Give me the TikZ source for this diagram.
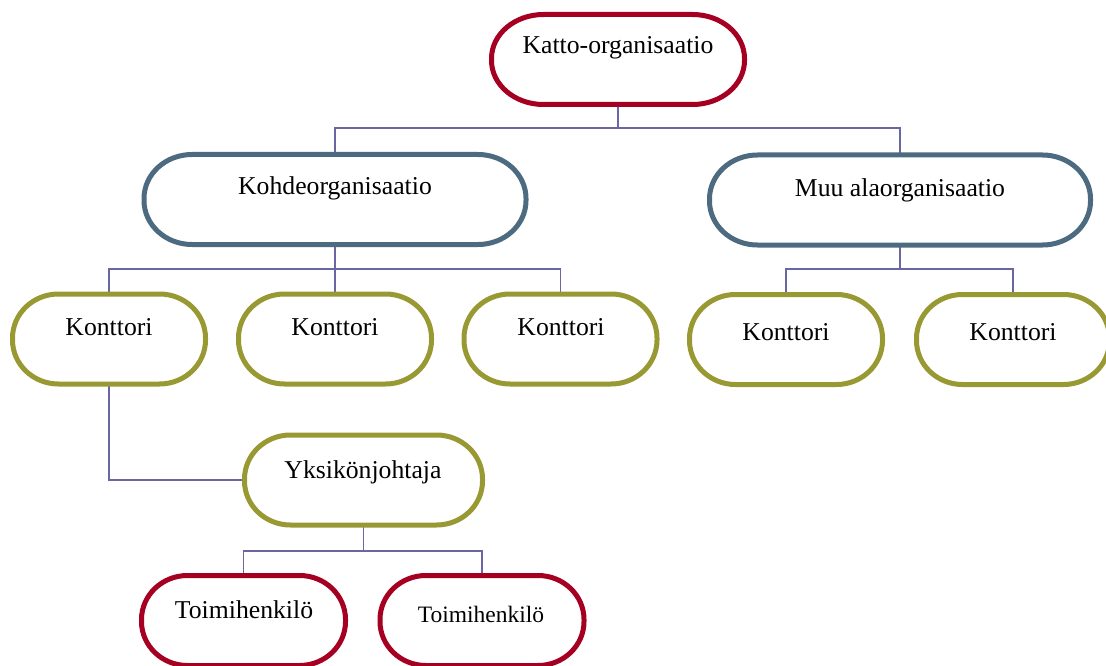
\documentclass[tikz,border=0pt]{standalone}
\usepackage{fontspec}
\setmainfont{Liberation Serif}
\definecolor{cred}{HTML}{A50021}
\definecolor{cblue}{HTML}{4C6B80}
\definecolor{colive}{HTML}{999933}
\definecolor{cline}{HTML}{6A66A3}
\tikzset{
  box/.style={draw=none, inner sep=0pt, outer sep=0pt, minimum height=90pt},
  frame/.style={line width=5pt, fill=white},
  lbl/.style={inner sep=0pt, font=\fontsize{25.7}{30}\selectfont},
  lblsmall/.style={inner sep=0pt, font=\fontsize{23.5}{28}\selectfont},
  conn/.style={draw=cline, line width=1.5pt}
}
% #1 node name, #2 colour, #3 horizontal corner radius
\newcommand\stadbox[3]{%
  \path[frame, draw=#2] ([xshift=#3]#1.north west) -- ([xshift=-#3]#1.north east)
    arc[start angle=90, end angle=0, x radius=#3, y radius=44pt]
    -- ([yshift=44pt]#1.south east)
    arc[start angle=0, end angle=-90, x radius=#3, y radius=44pt]
    -- ([xshift=#3]#1.south west)
    arc[start angle=270, end angle=180, x radius=#3, y radius=44pt]
    -- ([yshift=-44pt]#1.north west)
    arc[start angle=180, end angle=90, x radius=#3, y radius=44pt]
    -- cycle;}
\begin{document}
\begin{tikzpicture}[x=1pt,y=-1pt]
\useasboundingbox (0,0) rectangle (1106,666);
% box placeholders
\node[box, minimum width=253pt] (katto) at (618,59.5) {};
\node[box, minimum width=382pt] (kohde) at (335,199.5) {};
\node[box, minimum width=381pt] (muu) at (900,200) {};
\node[box, minimum width=193pt] (k1) at (109,339) {};
\node[box, minimum width=193pt] (k2) at (335,339) {};
\node[box, minimum width=193pt] (k3) at (560.5,339) {};
\node[box, minimum width=193pt] (k4) at (786,339.5) {};
\node[box, minimum width=193pt] (k5) at (1013,339.5) {};
\node[box, minimum width=238pt] (yks) at (363.5,480) {};
\node[box, minimum width=204pt] (t1) at (243.5,620.5) {};
\node[box, minimum width=204pt] (t2) at (482,620.5) {};
% connector lines
\draw[conn] (katto.south) -- ++(0,23.5) coordinate (j0) -| (kohde.north);
\draw[conn] (j0) -| (muu.north);
\draw[conn] (kohde.south) -- ++(0,24.5) coordinate (j1) -| (k1.north);
\draw[conn] (j1) -| (k3.north);
\draw[conn] (j1) -- (k2.north);
\draw[conn] (muu.south) -- ++(0,24) coordinate (j2) -| (k4.north);
\draw[conn] (j2) -| (k5.north);
\draw[conn] (k1.south) |- (yks.west);
\draw[conn] (yks.south) -- ++(0,26) coordinate (j3) -| (t1.north);
\draw[conn] (j3) -| (t2.north);
% frames
\stadbox{katto}{cred}{52pt}
\stadbox{kohde}{cblue}{48pt}
\stadbox{muu}{cblue}{48pt}
\stadbox{k1}{colive}{46pt}
\stadbox{k2}{colive}{46pt}
\stadbox{k3}{colive}{46pt}
\stadbox{k4}{colive}{46pt}
\stadbox{k5}{colive}{46pt}
\stadbox{yks}{colive}{46pt}
\stadbox{t1}{cred}{46pt}
\stadbox{t2}{cred}{46pt}
% labels
\node[lbl] (lkatto) at (618,48) {Katto-organisaatio};
\node[lbl] (lkohde) at (335,188) {Kohdeorganisaatio};
\node[lbl] (lmuu) at (900,190) {Muu alaorganisaatio};
\node[lbl] (lk1) at (109,327) {Konttori};
\node[lbl] (lk2) at (335,327) {Konttori};
\node[lbl] (lk3) at (561,327) {Konttori};
\node[lbl] (lk4) at (786,332) {Konttori};
\node[lbl] (lk5) at (1013,332) {Konttori};
\node[lbl] (lyks) at (363,472) {Yksikönjohtaja};
\node[lbl] (lt1) at (244,610) {Toimihenkilö};
\node[lblsmall] (lt2) at (481,614) {Toimihenkilö};
\end{tikzpicture}
\end{document}
